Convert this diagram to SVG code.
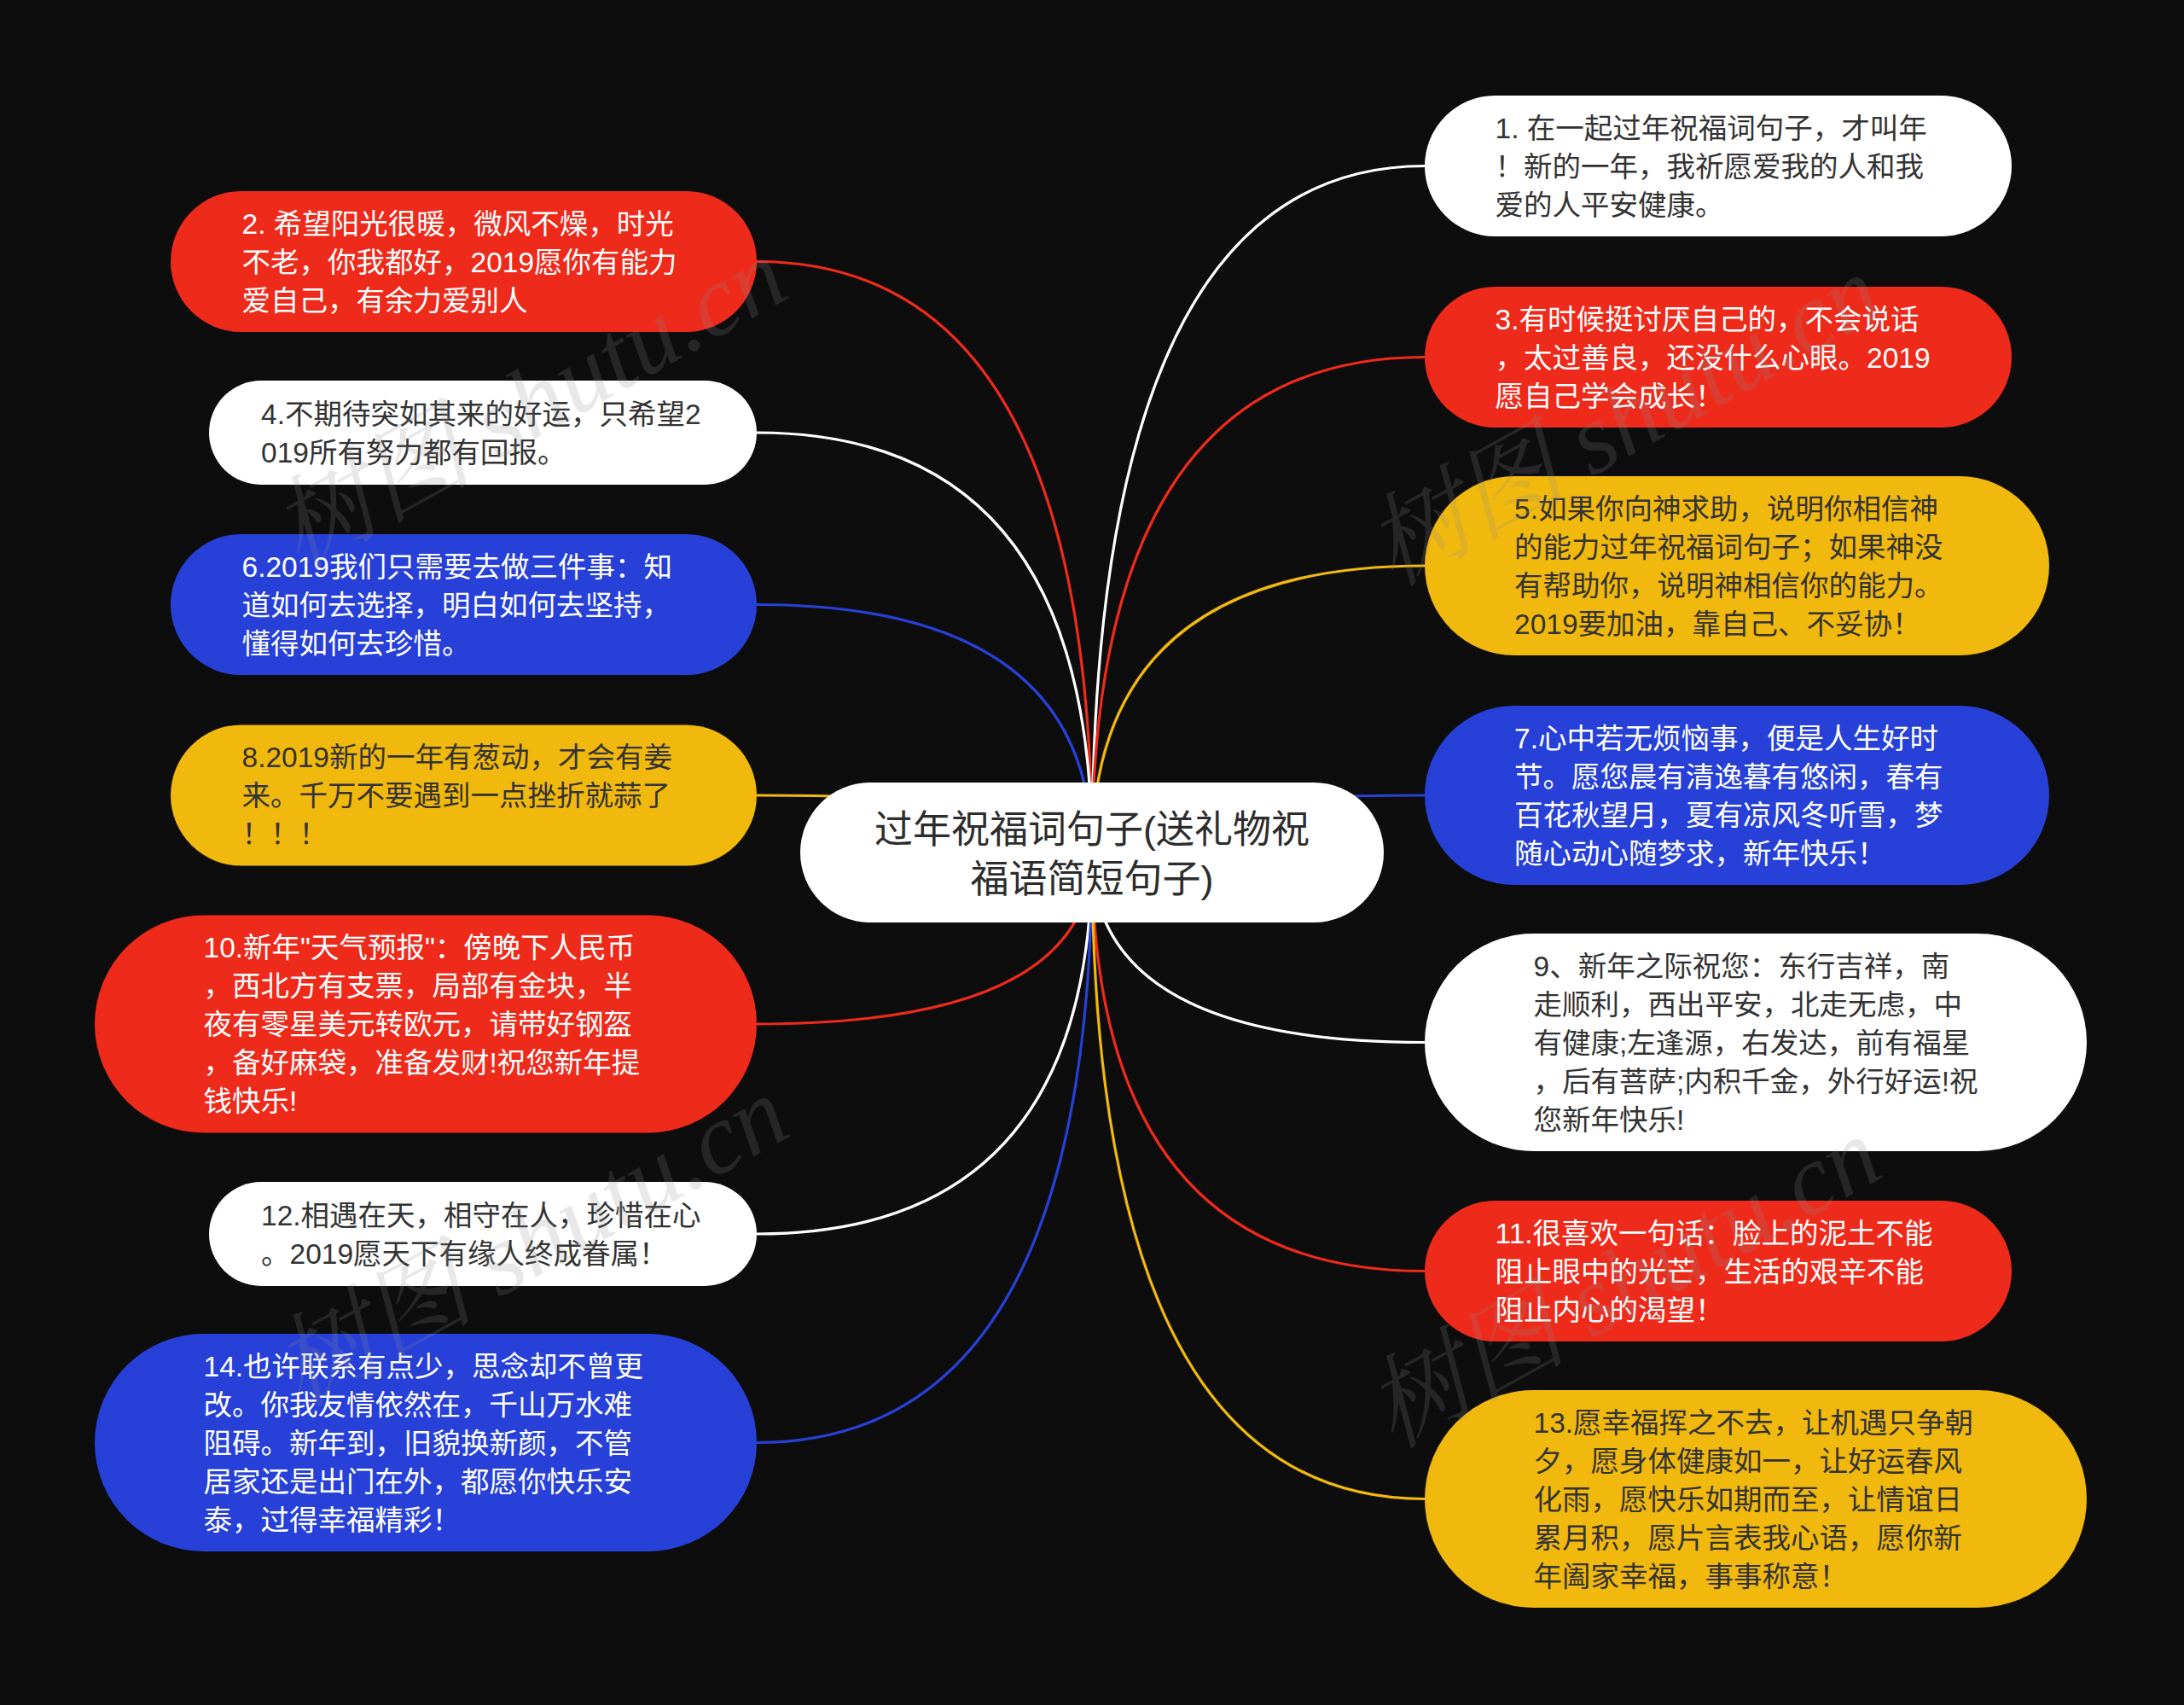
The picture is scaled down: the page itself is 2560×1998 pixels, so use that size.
<svg xmlns="http://www.w3.org/2000/svg" width="2560" height="1998" viewBox="0 0 2560 1998">
<style>
.t{font-family:'Liberation Sans','Noto Sans CJK SC',sans-serif;font-size:33.5px}
.lt{fill:#ffffff}
.dk{fill:#333333}
.red{fill:#EE2A1B}
.blue{fill:#2741D8}
.yel{fill:#F1B80D}
.wht{fill:#ffffff}
.c{fill:none;stroke-width:3.2}
.cr{stroke:#EE2A1B}.cb{stroke:#2741D8}.cy{stroke:#F1B80D}.cw{stroke:#ffffff}
.ctr{font-family:'Liberation Sans','Noto Sans CJK SC',sans-serif;font-size:45px;fill:#2d2d2d;text-anchor:middle}
.wm{font-family:'Liberation Serif','Noto Serif CJK SC','Noto Sans CJK SC',serif;font-style:italic;font-size:118px;fill:#8a8a8a;fill-opacity:0.2}
</style>
<rect x="0" y="0" width="2560" height="1998" fill="#0D0D0D"/>
<g id="connectors">
<path class="c cr" d="M1280,1000 Q1280,306.5 887,306.5"/>
<path class="c cw" d="M1280,1000 Q1280,507 887,507"/>
<path class="c cb" d="M1280,1000 Q1280,708.5 887,708.5"/>
<path class="c cy" d="M1280,1000 Q1280,932 887,932"/>
<path class="c cr" d="M1280,1000 Q1280,1200 887,1200"/>
<path class="c cw" d="M1280,1000 Q1280,1446 887,1446"/>
<path class="c cb" d="M1280,1000 Q1280,1690.5 887,1690.5"/>
<path class="c cw" d="M1280,1000 Q1280,194.5 1670,194.5"/>
<path class="c cr" d="M1280,1000 Q1280,418.5 1670,418.5"/>
<path class="c cy" d="M1280,1000 Q1280,663 1670,663"/>
<path class="c cb" d="M1280,1000 Q1280,932 1670,932"/>
<path class="c cw" d="M1280,1000 Q1280,1221.5 1670,1221.5"/>
<path class="c cr" d="M1280,1000 Q1280,1489.5 1670,1489.5"/>
<path class="c cy" d="M1280,1000 Q1280,1756.5 1670,1756.5"/>
</g>
<g id="center">
<rect class="wht" x="938" y="917" width="684" height="164" rx="82"/>
<text class="ctr" x="1280" y="988">过年祝福词句子(送礼物祝</text>
<text class="ctr" x="1280" y="1046">福语简短句子)</text>
</g>
<g id="n2">
<rect class="red" x="200" y="224" width="687" height="165" rx="82.5"/>
<text class="t lt" x="283.5" y="273.5">2. 希望阳光很暖，微风不燥，时光</text>
<text class="t lt" x="283.5" y="318.5">不老，你我都好，2019愿你有能力</text>
<text class="t lt" x="283.5" y="363.5">爱自己，有余力爱别人</text>
</g>
<g id="n4">
<rect class="wht" x="245" y="446" width="642" height="122" rx="61"/>
<text class="t dk" x="306" y="496.5">4.不期待突如其来的好运，只希望2</text>
<text class="t dk" x="306" y="541.5">019所有努力都有回报。</text>
</g>
<g id="n6">
<rect class="blue" x="200" y="626" width="687" height="165" rx="82.5"/>
<text class="t lt" x="283.5" y="675.5">6.2019我们只需要去做三件事：知</text>
<text class="t lt" x="283.5" y="720.5">道如何去选择，明白如何去坚持，</text>
<text class="t lt" x="283.5" y="765.5">懂得如何去珍惜。</text>
</g>
<g id="n8">
<rect class="yel" x="200" y="849.5" width="687" height="165" rx="82.5"/>
<text class="t dk" x="283.5" y="899">8.2019新的一年有葱动，才会有姜</text>
<text class="t dk" x="283.5" y="944">来。千万不要遇到一点挫折就蒜了</text>
<text class="t dk" x="283.5" y="989">！！！</text>
</g>
<g id="n10">
<rect class="red" x="111" y="1072.5" width="776" height="255" rx="127.5"/>
<text class="t lt" x="238.5" y="1122">10.新年"天气预报"：傍晚下人民币</text>
<text class="t lt" x="238.5" y="1167">，西北方有支票，局部有金块，半</text>
<text class="t lt" x="238.5" y="1212">夜有零星美元转欧元，请带好钢盔</text>
<text class="t lt" x="238.5" y="1257">，备好麻袋，准备发财!祝您新年提</text>
<text class="t lt" x="238.5" y="1302">钱快乐!</text>
</g>
<g id="n12">
<rect class="wht" x="245" y="1385" width="642" height="122" rx="61"/>
<text class="t dk" x="306" y="1435.5">12.相遇在天，相守在人，珍惜在心</text>
<text class="t dk" x="306" y="1480.5">。2019愿天下有缘人终成眷属！</text>
</g>
<g id="n14">
<rect class="blue" x="111" y="1563" width="776" height="255" rx="127.5"/>
<text class="t lt" x="238.5" y="1612.5">14.也许联系有点少，思念却不曾更</text>
<text class="t lt" x="238.5" y="1657.5">改。你我友情依然在，千山万水难</text>
<text class="t lt" x="238.5" y="1702.5">阻碍。新年到，旧貌换新颜，不管</text>
<text class="t lt" x="238.5" y="1747.5">居家还是出门在外，都愿你快乐安</text>
<text class="t lt" x="238.5" y="1792.5">泰，过得幸福精彩！</text>
</g>
<g id="n1">
<rect class="wht" x="1670" y="112" width="688" height="165" rx="82.5"/>
<text class="t dk" x="1752.5" y="161.5">1. 在一起过年祝福词句子，才叫年</text>
<text class="t dk" x="1752.5" y="206.5">！新的一年，我祈愿爱我的人和我</text>
<text class="t dk" x="1752.5" y="251.5">爱的人平安健康。</text>
</g>
<g id="n3">
<rect class="red" x="1670" y="336" width="688" height="165" rx="82.5"/>
<text class="t lt" x="1752.5" y="385.5">3.有时候挺讨厌自己的，不会说话</text>
<text class="t lt" x="1752.5" y="430.5">，太过善良，还没什么心眼。2019</text>
<text class="t lt" x="1752.5" y="475.5">愿自己学会成长！</text>
</g>
<g id="n5">
<rect class="yel" x="1670" y="558" width="732" height="210" rx="105"/>
<text class="t dk" x="1775" y="607.5">5.如果你向神求助，说明你相信神</text>
<text class="t dk" x="1775" y="652.5">的能力过年祝福词句子；如果神没</text>
<text class="t dk" x="1775" y="697.5">有帮助你，说明神相信你的能力。</text>
<text class="t dk" x="1775" y="742.5">2019要加油，靠自己、不妥协！</text>
</g>
<g id="n7">
<rect class="blue" x="1670" y="827" width="732" height="210" rx="105"/>
<text class="t lt" x="1775" y="876.5">7.心中若无烦恼事，便是人生好时</text>
<text class="t lt" x="1775" y="921.5">节。愿您晨有清逸暮有悠闲，春有</text>
<text class="t lt" x="1775" y="966.5">百花秋望月，夏有凉风冬听雪，梦</text>
<text class="t lt" x="1775" y="1011.5">随心动心随梦求，新年快乐！</text>
</g>
<g id="n9">
<rect class="wht" x="1670" y="1094" width="776" height="255" rx="127.5"/>
<text class="t dk" x="1797.5" y="1143.5">9、新年之际祝您：东行吉祥，南</text>
<text class="t dk" x="1797.5" y="1188.5">走顺利，西出平安，北走无虑，中</text>
<text class="t dk" x="1797.5" y="1233.5">有健康;左逢源，右发达，前有福星</text>
<text class="t dk" x="1797.5" y="1278.5">，后有菩萨;内积千金，外行好运!祝</text>
<text class="t dk" x="1797.5" y="1323.5">您新年快乐!</text>
</g>
<g id="n11">
<rect class="red" x="1670" y="1407" width="688" height="165" rx="82.5"/>
<text class="t lt" x="1752.5" y="1456.5">11.很喜欢一句话：脸上的泥土不能</text>
<text class="t lt" x="1752.5" y="1501.5">阻止眼中的光芒，生活的艰辛不能</text>
<text class="t lt" x="1752.5" y="1546.5">阻止内心的渴望！</text>
</g>
<g id="n13">
<rect class="yel" x="1670" y="1629" width="776" height="255" rx="127.5"/>
<text class="t dk" x="1797.5" y="1678.5">13.愿幸福挥之不去，让机遇只争朝</text>
<text class="t dk" x="1797.5" y="1723.5">夕，愿身体健康如一，让好运春风</text>
<text class="t dk" x="1797.5" y="1768.5">化雨，愿快乐如期而至，让情谊日</text>
<text class="t dk" x="1797.5" y="1813.5">累月积，愿片言表我心语，愿你新</text>
<text class="t dk" x="1797.5" y="1858.5">年阖家幸福，事事称意！</text>
</g>
<g id="watermark">
<text class="wm" x="350" y="668" transform="rotate(-29 350 668)">树图 shutu.cn</text>
<text class="wm" x="1633" y="688" transform="rotate(-29 1633 688)">树图 shutu.cn</text>
<text class="wm" x="352" y="1650" transform="rotate(-29 352 1650)">树图 shutu.cn</text>
<text class="wm" x="1633" y="1698" transform="rotate(-29 1633 1698)">树图 shutu.cn</text>
</g>
</svg>
